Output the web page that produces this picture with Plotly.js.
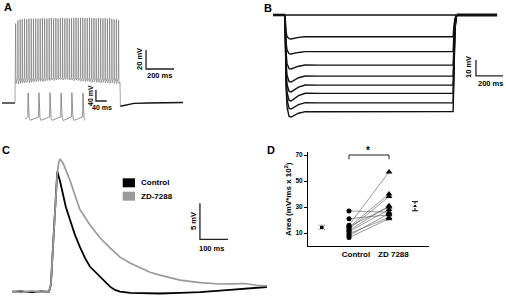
<!DOCTYPE html>
<html><head><meta charset="utf-8">
<script src="https://cdn.plot.ly/plotly-3.0.1.min.js"></script>
<style>html,body{margin:0;padding:0;background:#fff}#chart{width:506px;height:298px}</style>
</head><body><div id="chart"></div>
<script>
// ---------------- DATA ----------------
// Panel A: current-clamp spike train (time ms, membrane potential mV)
const aPreT = [-93, -40, 0];
const aPreV = [-65, -65.2, -65];
const aSpikeT = [5, 21, 37, 52, 68, 84, 100, 116, 132, 148, 164, 180, 196, 212, 228, 244, 260, 276, 292, 308, 324, 340, 356, 372, 388, 404, 420, 436, 452, 468, 484, 500, 516, 532, 548, 564, 580, 596, 612, 628, 644, 660, 676, 692, 708, 724, 740];
const aSpikePeak = [18.5, 21.8, 22.6, 23.0, 23.5, 23.1, 23.5, 23.7, 23.5, 23.8, 23.5, 23.7, 24.1, 23.8, 23.5, 24.1, 24.3, 23.8, 24.1, 23.7, 24.1, 24.3, 23.8, 24.1, 23.7, 24.1, 24.3, 24.6, 24.1, 24.3, 24.6, 24.1, 24.3, 24.6, 24.1, 24.3, 23.8, 24.3, 24.1, 23.7, 24.1, 23.5, 24.1, 23.5, 22.6, 23.0, 21.8];
const aSpikeTrough = [-44.5, -45.1, -44.5, -43.9, -43.9, -43.3, -43.9, -43.3, -42.7, -42.7, -42.1, -42.1, -42.7, -42.1, -41.5, -41.5, -40.9, -41.5, -40.9, -40.3, -40.3, -40.9, -40.3, -40.3, -40.9, -40.9, -41.5, -40.9, -41.5, -42.1, -42.1, -42.7, -42.1, -42.7, -43.3, -42.7, -43.3, -43.3, -43.9, -43.3, -43.9, -43.9, -44.5, -43.9, -44.5, -44.5, -44.5];
const aThreshold = -38.4;
const aStepOn = [0, 1], aStepOnV = [-65, -43.3];
const aStepOff = [750, 753], aStepOffV = [-43, -68.4];
const aPostT = [753, 770, 800, 850, 950, 1050, 1200];
const aPostV = [-68.4, -67.8, -66.4, -65.4, -65, -64.8, -64.5];
// Panel A inset
const insetStartT = 18.5, insetStartV = -64;
const insetSpikeT = [30, 70, 111, 152, 192, 233];
const insetPeak = [30, 31, 31, 30, 31, 30];
const insetFall = [-5, -4, -5, -5, -4, -5];
const insetTrough = [-68, -68.5, -68.5, -69, -68.5, -68.5];
const insetThreshold = -56;
// Panel B: hyperpolarizing steps (time ms, mV)
const bTimes = [0, 3, 8, 15, 30, 45, 70, 100, 150, 250, 1244, 1250, 1258, 1270];
const bTrace0 = [-65, -65, -65, -65, -65, -65, -65, -65, -65, -65, -65, -65, -65, -65];
const bTrace1 = [-65, -70.3, -75.5, -78.5, -79.8, -80.0, -79.5, -79.0, -78.6, -78.6, -78.6, -71.8, -67.0, -65];
const bTrace2 = [-65, -73.5, -82.1, -87.0, -89.2, -89.4, -88.9, -88.4, -87.9, -87.9, -87.9, -76.5, -68.4, -65];
const bTrace3 = [-65, -76.8, -88.6, -95.4, -98.5, -98.75, -97.9, -97.0, -96.25, -96.3, -96.25, -80.6, -69.7, -65];
const bTrace4 = [-65, -79.7, -94.3, -102.7, -106.6, -106.9, -105.6, -104.2, -103.1, -103.2, -103.1, -84.0, -70.7, -65];
const bTrace5 = [-65, -81.8, -98.7, -108.3, -112.8, -113.1, -111.6, -110.1, -108.75, -108.8, -108.75, -86.9, -71.6, -65];
const bTrace6 = [-65, -83.8, -102.6, -113.4, -118.4, -118.75, -117.05, -115.4, -113.9, -114.0, -113.9, -89.5, -72.3, -65];
const bTrace7 = [-65, -85.6, -106.1, -117.9, -123.4, -123.75, -122.4, -121.0, -119.8, -119.9, -119.8, -92.4, -73.2, -65];
const bTrace8 = [-65, -87.3, -109.6, -122.4, -128.4, -128.75, -127.6, -126.4, -125.4, -125.5, -125.4, -95.2, -74.1, -65];
const bHeadT = [-89, 0], bHeadV = [-65, -65];
const bTailT = [1270, 1570], bTailV = [-65, -65];
// Panel C: EPSP (time ms, mV)
const cBlackT = [-132, -100, -60, -30, 0, 7, 14, 22, 29.6, 39.3, 50, 60.7, 75, 92.8, 110.7, 128.5, 146, 164, 182, 200, 218, 235.6, 253.5, 290, 325, 396, 468, 539, 646, 778];
const cBlackV = [0, 0.05, -0.05, 0.05, 0, 1.0, 6.0, 12.0, 16.7, 15.4, 13.6, 11.7, 10.0, 7.9, 6.2, 4.7, 3.5, 2.8, 2.1, 1.35, 0.7, 0.25, 0, -0.15, -0.2, -0.25, -0.15, -0.05, 0.25, 0.65];
const cGreyT = [-132, -100, -60, -30, 0, 7, 14, 22, 29.6, 35, 39.3, 50, 60.7, 75, 92.8, 110.7, 146, 182, 218, 253.5, 289, 325, 360.6, 396, 432, 468, 539, 610, 660, 700, 740, 778];
const cGreyV = [0, -0.1, 0.1, -0.05, 0, 1.0, 6.0, 12.0, 16.5, 18.0, 18.45, 17.9, 16.9, 15.5, 13.4, 11.4, 9.3, 7.5, 6.1, 4.8, 4.0, 3.3, 2.7, 2.3, 1.9, 1.6, 1.25, 1.07, 1.1, 1.14, 0.9, 0.8];
const cLegend = ['Control', 'ZD-7288'];
// Panel D: area (mV*ms x 10^2)
const dCategories = ['Control', 'ZD 7288'];
const dControl = [27, 21, 16, 14.5, 13, 12, 11, 9.5, 8, 6.5, 15];
const dZD = [26, 24, 57, 40, 38, 31, 28, 22, 25, 21, 30];
const dMeans = [14.3, 30.6];
const dSEM = [1.6, 3.5];
const dTicks = [10, 30, 50, 70];

// ---------------- BUILD ----------------
const W = 506, H = 298;
const fx = p => p / W, fy = p => 1 - p / H;
const FONT = 'Liberation Sans, Arial, sans-serif';
const traces = [];

// A
traces.push({x: aPreT, y: aPreV, xaxis: 'x', yaxis: 'y', mode: 'lines', line: {color: '#111', width: 1.3}, hoverinfo: 'skip'});
const sx = aStepOn.slice(), sy = aStepOnV.slice();
aSpikeT.forEach((t, i) => {
  sx.push(t - 1.5, t, t + 2.5);
  sy.push(aThreshold, aSpikePeak[i], aSpikeTrough[i]);
});
sx.push(...aStepOff); sy.push(...aStepOffV);
traces.push({x: sx, y: sy, xaxis: 'x', yaxis: 'y', mode: 'lines', line: {color: '#6a6a6a', width: 0.6}, hoverinfo: 'skip'});
traces.push({x: aPostT, y: aPostV, xaxis: 'x', yaxis: 'y', mode: 'lines', line: {color: '#111', width: 1.3}, hoverinfo: 'skip'});
// inset
const ix = [insetStartT], iy = [insetStartV];
insetSpikeT.forEach((t, i) => {
  ix.push(t - 1.5, t, t + 2, t + 4, t + 8);
  iy.push(insetThreshold, insetPeak[i], insetFall[i], -60, insetTrough[i]);
});
traces.push({x: ix, y: iy, xaxis: 'x2', yaxis: 'y2', mode: 'lines', line: {color: '#777', width: 0.8}, hoverinfo: 'skip'});

// B
[bTrace0, bTrace1, bTrace2, bTrace3, bTrace4, bTrace5, bTrace6, bTrace7, bTrace8].forEach(v => {
  traces.push({x: bTimes, y: v, xaxis: 'x3', yaxis: 'y3', mode: 'lines', line: {color: '#111', width: 1.4}, hoverinfo: 'skip'});
});
traces.push({x: bHeadT, y: bHeadV, xaxis: 'x3', yaxis: 'y3', mode: 'lines', line: {color: '#111', width: 2.6}, hoverinfo: 'skip'});
traces.push({x: bTailT, y: bTailV, xaxis: 'x3', yaxis: 'y3', mode: 'lines', line: {color: '#111', width: 3}, hoverinfo: 'skip'});

// C
traces.push({x: cBlackT, y: cBlackV, xaxis: 'x4', yaxis: 'y4', mode: 'lines', name: cLegend[0], line: {color: '#000', width: 1.8}, hoverinfo: 'skip'});
traces.push({x: cGreyT, y: cGreyV, xaxis: 'x4', yaxis: 'y4', mode: 'lines', name: cLegend[1], line: {color: '#9a9a9a', width: 1.7}, hoverinfo: 'skip'});

// D paired lines
dControl.forEach((c, i) => {
  traces.push({x: [1, 2], y: [c, dZD[i]], xaxis: 'x5', yaxis: 'y5', mode: 'lines',
    line: {color: '#555', width: 0.6}, hoverinfo: 'skip'});
});
traces.push({x: dControl.map(() => 1), y: dControl, xaxis: 'x5', yaxis: 'y5', mode: 'markers',
  marker: {color: '#000', opacity: 1, size: 5, symbol: 'circle', line: {width: 0}}, hoverinfo: 'skip'});
traces.push({x: dZD.map(() => 2), y: dZD, xaxis: 'x5', yaxis: 'y5', mode: 'markers',
  marker: {color: '#000', opacity: 1, size: 6, symbol: 'triangle-up', line: {width: 0}}, hoverinfo: 'skip'});
// summary mean +/- SEM
traces.push({x: [0.32, 2.65], y: dMeans, xaxis: 'x5', yaxis: 'y5', mode: 'markers',
  marker: {color: '#000', opacity: 1, size: [4.5, 5], symbol: ['square', 'triangle-up']},
  error_y: {type: 'data', array: dSEM, color: '#000', thickness: 1, width: 3}, hoverinfo: 'skip'});

const hidden = {visible: false, fixedrange: true};
const tf = {family: FONT, color: '#000', weight: 'bold'};

const shapeLine = {color: '#222', width: 1.3};
const shapes = [
  {type: 'path', xref: 'x', yref: 'y', path: 'M 936,-9.3 L 936,-29.3 L 1136,-29.3', line: shapeLine},
  {type: 'path', xref: 'x2', yref: 'y2', path: 'M 281,41.2 L 281,1.2 L 321,1.2', line: shapeLine},
  {type: 'path', xref: 'x3', yref: 'y3', path: 'M 1413,-93.1 L 1413,-103.1 L 1613,-103.1', line: shapeLine},
  {type: 'path', xref: 'x4', yref: 'y4', path: 'M 539,12.28 L 539,7.28 L 639,7.28', line: shapeLine},
  {type: 'rect', xref: 'paper', yref: 'paper', x0: fx(122.7), x1: fx(135), y0: fy(187.3), y1: fy(178.3), fillcolor: '#000', line: {width: 0}},
  {type: 'rect', xref: 'paper', yref: 'paper', x0: fx(122.7), x1: fx(135), y0: fy(200.7), y1: fy(191.7), fillcolor: '#9a9a9a', line: {width: 0}},
  {type: 'path', xref: 'x5', yref: 'y5', path: 'M 1,66.7 L 1,70 L 2,70 L 2,66.7', line: {color: '#222', width: 1}}
];

function ann(text, xp, yp, size, extra) {
  return Object.assign({text: text, xref: 'paper', yref: 'paper', x: fx(xp), y: fy(yp), showarrow: false,
    xanchor: 'center', yanchor: 'middle', font: Object.assign({}, tf, {size: size})}, extra || {});
}
const annotations = [
  ann('A', 8, 7, 11), ann('B', 268, 8, 11), ann('C', 6, 150, 11), ann('D', 271, 150, 11),
  ann('20 mV', 139.5, 59.5, 7.5, {textangle: -90}), ann('200 ms', 159, 75, 7.5),
  ann('40 mV', 90.5, 95.5, 7, {textangle: -90}), ann('40 ms', 101.5, 108, 7),
  ann('10 mV', 468.5, 67.5, 7.5, {textangle: -90}), ann('200 ms', 490, 83, 7.5),
  ann('5 mV', 193, 221, 7.5, {textangle: -90}), ann('100 ms', 211.5, 248, 7.5),
  ann(cLegend[0], 139, 182.8, 8, {xanchor: 'left'}), ann(cLegend[1], 139, 196.7, 8, {xanchor: 'left'}),
  {text: '*', xref: 'x5', yref: 'y5', x: 1.47, y: 70, yanchor: 'bottom', showarrow: false, yshift: -3, font: Object.assign({}, tf, {size: 10})}
];

const layout = {
  width: W, height: H, margin: {l: 0, r: 0, t: 0, b: 0}, showlegend: false,
  paper_bgcolor: '#fff', plot_bgcolor: 'rgba(0,0,0,0)', font: {family: FONT, color: '#000'},
  xaxis: Object.assign({}, hidden, {domain: [0, fx(190)], range: [-107, 1250], anchor: 'y'}),
  yaxis: Object.assign({}, hidden, {domain: [fy(125), fy(10)], range: [-88.1, 32.65], anchor: 'x'}),
  xaxis2: Object.assign({}, hidden, {domain: [fx(20), fx(110)], range: [0, 333], anchor: 'y2'}),
  yaxis2: Object.assign({}, hidden, {domain: [fy(125), fy(86)], range: [-85.2, 55.2], anchor: 'x2'}),
  xaxis3: Object.assign({}, hidden, {domain: [fx(265), fx(505)], range: [-148, 1628], anchor: 'y3'}),
  yaxis3: Object.assign({}, hidden, {domain: [fy(125), fy(5)], range: [-133.75, -58.75], anchor: 'x3'}),
  xaxis4: Object.assign({}, hidden, {domain: [fx(5), fx(275)], range: [-157, 807], anchor: 'y4'}),
  yaxis4: Object.assign({}, hidden, {domain: [0, fy(150)], range: [-0.876, 19.7], anchor: 'x4'}),
  xaxis5: {domain: [fx(308), fx(429)], range: [-0.025, 3.0], anchor: 'y5', fixedrange: true,
    showline: true, linecolor: '#000', linewidth: 1, showgrid: false, zeroline: false, ticks: '',
    tickvals: [1.175, 2.11], ticktext: dCategories, tickfont: Object.assign({}, tf, {size: 8}), automargin: false},
  yaxis5: {domain: [fy(246), fy(152.4)], range: [0, 72], anchor: 'x5', fixedrange: true,
    showline: true, linecolor: '#000', linewidth: 1, showgrid: false, zeroline: false,
    ticks: 'outside', ticklen: 3, tickwidth: 1, tickcolor: '#000', tickvals: dTicks,
    tickfont: Object.assign({}, tf, {size: 6.5}), automargin: false,
    title: {text: 'Area (mV*ms x 10<sup>2</sup>)', font: Object.assign({}, tf, {size: 8}), standoff: 2}},
  shapes: shapes, annotations: annotations
};

Plotly.newPlot('chart', traces, layout, {staticPlot: true, displayModeBar: false});
</script></body></html>
